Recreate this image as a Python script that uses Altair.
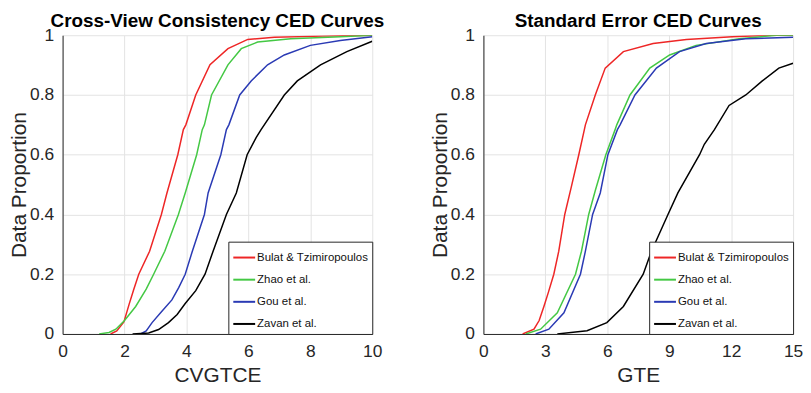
import altair as alt
import pandas as pd

series = ["Bulat & Tzimiropoulos", "Zhao et al.", "Gou et al.", "Zavan et al."]
colors = ["#ee2626", "#44c844", "#2a3ab4", "#000000"]

# ---- Cross-View Consistency (CVGTCE) ----
cv_bulat_x = [1.55, 1.75, 1.98, 2.15, 2.3, 2.46, 2.81, 3.19, 3.37, 3.72, 3.9, 3.98, 4.3, 4.76, 5.34, 5.98, 6.84, 8.4, 10]
cv_bulat_y = [0, 0.01, 0.04, 0.10, 0.15, 0.2, 0.277, 0.4, 0.472, 0.6, 0.684, 0.70, 0.8, 0.901, 0.955, 0.986, 0.993, 0.997, 1.0]
cv_zhao_x = [1.18, 1.5, 1.72, 2.0, 2.36, 2.7, 2.94, 3.30, 3.74, 3.96, 4.33, 4.51, 4.58, 4.81, 5.34, 5.77, 6.3, 7.37, 8.97, 10]
cv_zhao_y = [0, 0.005, 0.016, 0.045, 0.092, 0.15, 0.2, 0.277, 0.4, 0.472, 0.6, 0.684, 0.7, 0.8, 0.901, 0.955, 0.977, 0.988, 0.995, 1.0]
cv_gou_x = [2.52, 2.7, 2.89, 3.2, 3.53, 3.75, 3.96, 4.19, 4.58, 4.7, 5.11, 5.29, 5.37, 5.72, 6.09, 6.62, 7.16, 8.0, 8.97, 10]
cv_gou_y = [0, 0.01, 0.038, 0.075, 0.114, 0.155, 0.2, 0.277, 0.4, 0.472, 0.6, 0.684, 0.7, 0.8, 0.847, 0.901, 0.934, 0.966, 0.982, 0.995]
cv_zavan_x = [2.26, 2.78, 3.1, 3.42, 3.7, 3.96, 4.3, 4.6, 4.86, 5.29, 5.61, 5.96, 6.25, 6.41, 7.16, 7.58, 8.33, 9.18, 10]
cv_zavan_y = [0, 0.003, 0.015, 0.038, 0.065, 0.102, 0.145, 0.2, 0.277, 0.4, 0.472, 0.6, 0.657, 0.684, 0.8, 0.847, 0.901, 0.945, 0.98]

# ---- Standard Error (GTE) ----
se_bulat_x = [1.9, 2.45, 2.7, 2.93, 3.15, 3.41, 3.65, 3.94, 4.25, 4.62, 4.89, 4.94, 5.42, 5.9, 6.78, 8.22, 9.83, 12.05, 14, 15]
se_bulat_y = [0, 0.016, 0.045, 0.092, 0.14, 0.2, 0.277, 0.4, 0.49, 0.6, 0.684, 0.7, 0.8, 0.89, 0.945, 0.972, 0.986, 0.995, 1.0, 1.0]
se_zhao_x = [2.05, 2.77, 3.58, 4.46, 4.75, 5.1, 5.42, 5.93, 6.38, 6.46, 7.1, 8.06, 9.02, 10.3, 12.39, 14.2, 15]
se_zhao_y = [0, 0.016, 0.071, 0.2, 0.277, 0.4, 0.48, 0.6, 0.684, 0.7, 0.8, 0.89, 0.934, 0.966, 0.988, 1.0, 1.0]
se_gou_x = [2.53, 3.17, 3.9, 4.7, 4.94, 5.29, 5.66, 6.03, 6.49, 6.62, 7.34, 8.38, 9.5, 10.79, 12.71, 15]
se_gou_y = [0, 0.016, 0.071, 0.2, 0.277, 0.4, 0.472, 0.6, 0.684, 0.7, 0.8, 0.89, 0.945, 0.972, 0.988, 0.993]
se_zavan_x = [3.58, 5.02, 5.98, 6.78, 7.74, 8.14, 8.94, 9.42, 10.47, 10.7, 11.19, 11.9, 12.71, 13.51, 14.31, 15]
se_zavan_y = [0, 0.011, 0.038, 0.092, 0.2, 0.277, 0.4, 0.472, 0.6, 0.635, 0.684, 0.765, 0.8, 0.847, 0.89, 0.906]


def make_df(pairs):
    rows = []
    for name, (xs, ys) in zip(series, pairs):
        for i, (x, y) in enumerate(zip(xs, ys)):
            rows.append({"series": name, "x": x, "y": y, "i": i})
    return pd.DataFrame(rows)


cv_df = make_df([(cv_bulat_x, cv_bulat_y), (cv_zhao_x, cv_zhao_y),
                 (cv_gou_x, cv_gou_y), (cv_zavan_x, cv_zavan_y)])
se_df = make_df([(se_bulat_x, se_bulat_y), (se_zhao_x, se_zhao_y),
                 (se_gou_x, se_gou_y), (se_zavan_x, se_zavan_y)])

FONT = "Liberation Sans"


def panel(df, title, xtitle, xmax, xstep):
    return alt.Chart(df).mark_line(strokeWidth=1.5, clip=True).encode(
        x=alt.X("x:Q",
                scale=alt.Scale(domain=[0, xmax], nice=False, zero=False),
                axis=alt.Axis(values=list(range(0, xmax + 1, xstep)), title=xtitle,
                              labelFlush=False, labelPadding=9, titlePadding=4)),
        y=alt.Y("y:Q",
                scale=alt.Scale(domain=[0, 1], nice=False),
                axis=alt.Axis(values=[0, 0.2, 0.4, 0.6, 0.8, 1], format="~g",
                              labelFlush=False,
                              title="Data Proportion", labelPadding=9, titlePadding=0)),
        color=alt.Color("series:N",
                        scale=alt.Scale(domain=series, range=colors),
                        legend=alt.Legend(title=None, orient="bottom-right", offset=0,
                                          strokeColor="#262626", fillColor="white",
                                          padding=4, symbolType="stroke", symbolSize=484,
                                          symbolStrokeWidth=2, labelFontSize=11.5,
                                          labelFont=FONT, labelColor="#111111",
                                          rowPadding=4.3, labelOffset=1, labelLimit=300)),
        order="i:Q",
    ).properties(
        width=312, height=301,
        title=alt.TitleParams(title, font=FONT, fontSize=19, fontWeight="bold",
                              color="black", anchor="middle", offset=-5),
    )


left = panel(cv_df, "Cross-View Consistency CED Curves", "CVGTCE", 10, 2)
right = panel(se_df, "Standard Error CED Curves", "GTE", 15, 3)

chart = alt.hconcat(left, right, spacing=112, bounds="flush").resolve_scale(
    color="independent"
).resolve_legend(color="independent").configure(
    padding={"top": 3, "left": 0, "right": 0, "bottom": 0}, background="white"
).configure_view(stroke=None).configure_axis(
    domainColor="#262626", domainWidth=1, ticks=False,
    labelFont=FONT, labelFontSize=17.5, labelColor="#262626",
    titleFont=FONT, titleFontSize=21, titleFontWeight="normal", titleColor="#262626",
    gridColor="#e3e3e3", gridWidth=1,
)

chart.save("out.html", embed_options={"renderer": "svg", "actions": False})
